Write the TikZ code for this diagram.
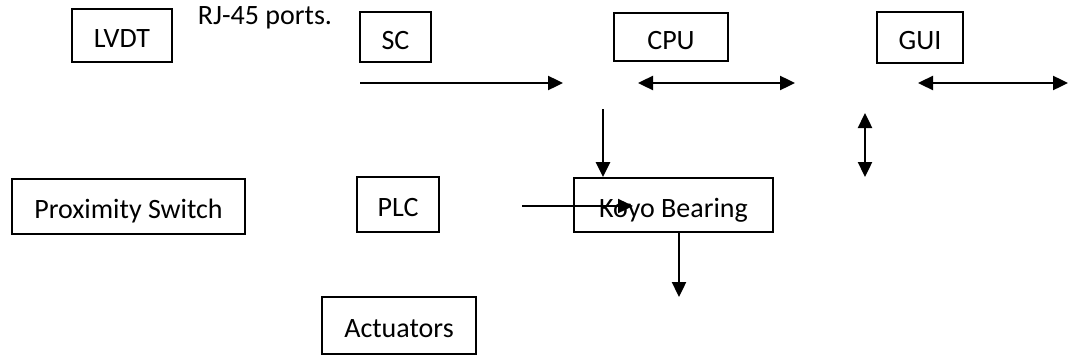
\documentclass[tikz,border=0pt]{standalone}
\usepackage{fontspec}
\setmainfont{Carlito}
\usepackage{tikz}
\usetikzlibrary{arrows.meta}

\begin{document}
\begin{tikzpicture}[x=1pt, y=-1pt, font=\fontsize{28}{34}\selectfont,
    block/.style={draw, line width=1.8pt, inner sep=0pt, text height=24pt, text depth=0pt},
    arrowA/.style={line width=2.4pt, -{Triangle[length=15pt, width=14pt]}},
    arrowB/.style={line width=2.4pt, {Triangle[length=15pt, width=14pt]}-{Triangle[length=15pt, width=14pt]}}]
    % 画布大小与原图一致
    \useasboundingbox (0,0) rectangle (1068,356);

    % 1. 上排方框
    \node (lvdt) at (122,35.5) [block, minimum width=100pt, minimum height=53pt] {LVDT};
    \node (sc) at (395.5,37) [block, minimum width=71pt, minimum height=50pt] {SC};
    \node (cpu) at (671,37) [block, minimum width=114pt, minimum height=48pt] {CPU};
    \node (gui) at (920,37.5) [block, minimum width=86pt, minimum height=51pt] {GUI};
    \node (rj) at (265,24) [anchor=base] {RJ-45 ports.};

    % 2. 中排与下排方框
    \node (prox) at (128.5,206.5) [block, minimum width=233pt, minimum height=55pt] {Proximity Switch};
    \node (plc) at (398,204.5) [block, minimum width=82pt, minimum height=55pt] {PLC};
    \node (koyo) at (673.5,205) [block, minimum width=199pt, minimum height=54pt] {Koyo Bearing};
    \node (act) at (399,325.5) [block, minimum width=154pt, minimum height=57pt] {Actuators};

    % 3. 箭头的端点
    \coordinate (scL) at (360,83);
    \coordinate (scR) at (563,83);
    \coordinate (cpuL) at (638,83);
    \coordinate (cpuR) at (795,83);
    \coordinate (guiL) at (918,83);
    \coordinate (guiR) at (1068,83);
    \coordinate (downT) at (603,109);
    \coordinate (vertT) at (865,113);
    \coordinate (vertB) at (865,177);
    \coordinate (plcR) at (522,206);
    \coordinate (koyoIn) at (633,206);
    \coordinate (koyoOut) at (679,297);

    % 4. 箭头
    \draw[arrowA] (scL) -- (scR);
    \draw[arrowB] (cpuL) -- (cpuR);
    \draw[arrowB] (guiL) -- (guiR);
    \draw[arrowA] (downT) -- (downT |- koyo.north);
    \draw[arrowB] (vertT) -- (vertB);
    \draw[arrowA] (plcR) -- (koyoIn);
    \draw[arrowA] (koyoOut |- koyo.south) -- (koyoOut);
\end{tikzpicture}
\end{document}
